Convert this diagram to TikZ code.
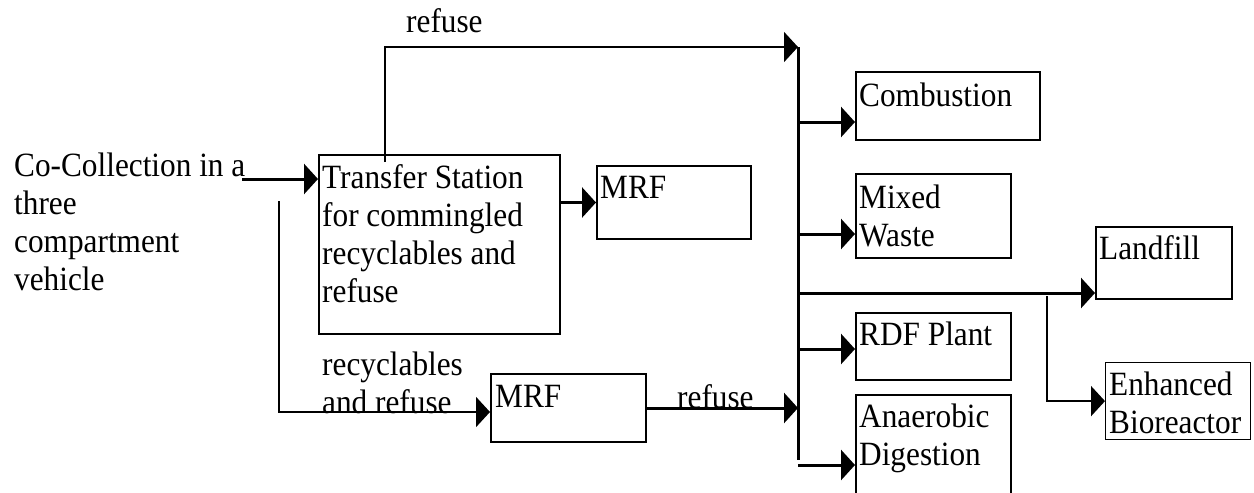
\documentclass[tikz,border=0pt]{standalone}
\usepackage{fontspec}
\setmainfont[FakeStretch=0.92]{Liberation Serif}
\usetikzlibrary{arrows.meta,calc}
\begin{document}
\begin{tikzpicture}[x=1pt,y=-1pt,
  box/.style={draw,line width=2pt,inner sep=0pt,anchor=north west},
  txt/.style={inner sep=0pt,anchor=base west,align=left,font=\fontsize{34}{38}\selectfont},
  tip/.style={-{Triangle[length=14pt,width=30pt]}},
  arr/.style={line width=3pt,tip},
  ln/.style={line width=2pt}]
\useasboundingbox (0,0) rectangle (1254,493);
% boxes
\node[box,minimum width=241pt,minimum height=179pt] (ts) at (318,154) {};
\node[box,minimum width=154pt,minimum height=73pt] (mrf1) at (596,165) {};
\node[box,minimum width=155pt,minimum height=68pt] (mrf2) at (490,373) {};
\node[box,minimum width=184pt,minimum height=68pt] (comb) at (855,71) {};
\node[box,minimum width=155pt,minimum height=84pt] (mixed) at (855,173) {};
\node[box,minimum width=136pt,minimum height=72pt] (landfill) at (1095,226) {};
\node[box,minimum width=155pt,minimum height=67pt] (rdf) at (855,312) {};
\node[box,minimum width=155pt,minimum height=130pt] (ad) at (855,394) {};
\node[box,line width=1.2pt,minimum width=145pt,minimum height=77pt] (enh) at (1105,362) {};
% texts (multi-line nodes: base = baseline of last line)
\node[txt] (cc) at (14,290) {Co-Collection in a\\three\\compartment\\vehicle};
\node[txt] (tstext) at (322,302) {Transfer Station\\for commingled\\recyclables and\\refuse};
\node[txt] (mrf1text) at (600,198) {MRF};
\node[txt] (mrf2text) at (495,407) {MRF};
\node[txt] (combtext) at (859,106) {Combustion};
\node[txt] (mixedtext) at (859,246) {Mixed\\Waste};
\node[txt] (landtext) at (1099,259) {Landfill};
\node[txt] (rdftext) at (859,345) {RDF Plant};
\node[txt] (adtext) at (859,465) {Anaerobic\\Digestion};
\node[txt] (enhtext) at (1109,433) {Enhanced\\Bioreactor};
\node[txt] (lref1) at (406,32) {refuse};
\node[txt] (lrr) at (322,413) {recyclables\\and refuse};
\node[txt] (lref2) at (677,408) {refuse};
% connectors
\coordinate (ccout) at (242,179);
\coordinate (tsup) at (385,162);
\coordinate (bustop) at (798,47);
\coordinate (busbot) at (798,460);
\coordinate (split) at (279,201);
\coordinate (r2) at (279,412);
\coordinate (b1) at (798,122);
\coordinate (b2) at (798,234);
\coordinate (b3) at (798,293);
\coordinate (b4) at (798,349);
\coordinate (b5) at (798,465);
\coordinate (lbr) at (1047,296);
\draw[arr] (ccout) -- (ccout -| ts.west);
\draw[ln,tip] (tsup) |- (bustop);
\draw[line width=3pt] (bustop) -- (busbot);
\draw[arr] (ts.east |- mrf1.west) -- (mrf1.west);
\draw[ln,tip] (split) -- (r2) -- (r2 -| mrf2.west);
\draw[arr] (mrf2.east) -- (mrf2.east -| bustop);
\draw[arr] (b1) -- (b1 -| comb.west);
\draw[arr] (b2) -- (b2 -| mixed.west);
\draw[arr] (b3) -- (b3 -| landfill.west);
\draw[arr] (b4) -- (b4 -| rdf.west);
\draw[arr] (b5) -- (b5 -| ad.west);
\draw[ln,tip] (lbr) |- (enh.west);
\end{tikzpicture}
\end{document}
